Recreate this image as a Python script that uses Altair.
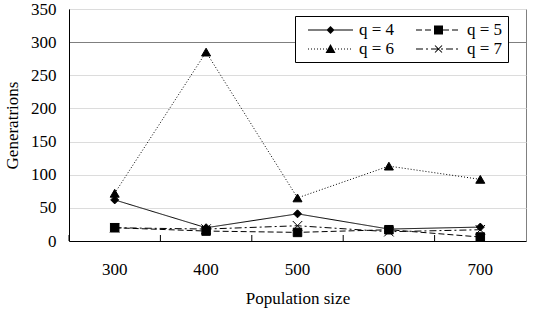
import math
import altair as alt
import pandas as pd

# Population sizes tested and mean generations needed for each q
populations = [300, 400, 500, 600, 700]
series_names = ["q = 4", "q = 5", "q = 6", "q = 7"]
q4 = [62, 20, 41, 18, 21]
q5 = [20, 15, 13, 17, 6]
q6 = [72, 285, 65, 113, 93]
q7 = [20, 18, 23, 14, 17]
y_ticks = [0, 50, 100, 150, 200, 250, 300, 350]

rows = []
for name, vals in zip(series_names, [q4, q5, q6, q7]):
    for p, v in zip(populations, vals):
        rows.append({"pop": p, "series": name, "gens": v})
df = pd.DataFrame(rows)

FONT = "'Liberation Serif', 'Times New Roman', Times, serif"
FS = 17

# Legend samples: a 45 px line with the series marker in its middle.
# Symbols are laid out on a 16 px grid cell (unit = 8 px), the sample
# starts at the cell's left edge and runs to the right of it.
R = 8.0            # px per symbol unit
SAMPLE = 45.0      # sample length, px
CELL = 2 * R       # nominal symbol width, px


def to_units(x, y):
    return (x - R) / R, y / R


def quad(pts):
    return "M" + "L".join("{:.4f},{:.4f}".format(*to_units(a, b)) for a, b in pts) + "Z"


def dash_path(pattern):
    """Filled 1 px tall rectangles along the sample (pattern in px)."""
    segs, x, i, on = [], 0.0, 0, True
    while x < SAMPLE - 1e-6:
        length = pattern[i % len(pattern)]
        if on:
            b = min(x + length, SAMPLE)
            segs.append(quad([(x, -0.5), (b, -0.5), (b, 0.5), (x, 0.5)]))
        x += length
        on = not on
        i += 1
    return "".join(segs)


def thick_segment(x0, y0, x1, y1):
    """Segment drawn as a filled quad one pixel thick."""
    dx, dy = x1 - x0, y1 - y0
    n = math.hypot(dx, dy)
    px, py = -dy / n * 0.5, dx / n * 0.5
    return quad([(x0 - px, y0 - py), (x1 - px, y1 - py), (x1 + px, y1 + py), (x0 + px, y0 + py)])


m = SAMPLE / 2
markers = {
    "diamond": quad([(m, -4), (m + 4, 0), (m, 4), (m - 4, 0)]),
    "square": quad([(m - 4.5, -4.5), (m + 4.5, -4.5), (m + 4.5, 4.5), (m - 4.5, 4.5)]),
    "triangle": quad([(m, -5), (m + 5, 4), (m - 5, 4), (m, -5)]),
    "cross": thick_segment(m - 3.5, -3.5, m + 3.5, 3.5) + thick_segment(m - 3.5, 3.5, m + 3.5, -3.5),
}
dash_patterns = [[1, 0], [6, 3], [1, 2], [7, 3, 2, 3]]
legend_paths = [
    dash_path([SAMPLE]) + markers["diamond"],
    dash_path([6, 3]) + markers["square"],
    dash_path([1, 2]) + markers["triangle"],
    dash_path([7, 3, 2, 3]) + markers["cross"],
]
point_shapes = ["diamond", "square", "triangle-up", "M-1,-1L1,1M-1,1L1,-1"]
point_sizes = [64, 90, 110, 50]

x_enc = alt.X(
    "pop:O",
    title="Population size",
    bandPosition=0.5,
    scale=alt.Scale(type="band", paddingInner=0, paddingOuter=0),
    axis=alt.Axis(ticks=False, labelAngle=0, labelPadding=20, titlePadding=13,
                  domainColor="black"),
)
y_enc = alt.Y(
    "gens:Q",
    title="Generatrions",
    scale=alt.Scale(domain=[0, 350], nice=False, zero=True),
    axis=alt.Axis(
        values=y_ticks, ticks=False, grid=True, labelPadding=13, titlePadding=9,
        domainColor="black",
        gridColor={"condition": {"test": "datum.value === 300", "value": "#7f7f7f"},
                   "value": "#dcdcdc"},
    ),
)

base = alt.Chart(df)

lines = base.mark_line(color="black", strokeWidth=1).encode(
    x=x_enc, y=y_enc,
    strokeDash=alt.StrokeDash("series:N",
                              scale=alt.Scale(domain=series_names, range=dash_patterns),
                              legend=None),
)

points = base.mark_point(filled=True, fill="black", stroke="black", strokeWidth=1,
                         opacity=1).encode(
    x=x_enc, y=y_enc,
    shape=alt.Shape("series:N", scale=alt.Scale(domain=series_names, range=point_shapes),
                    legend=None),
    size=alt.Size("series:O", scale=alt.Scale(domain=series_names, range=point_sizes),
                  legend=None),
)

# category separators on the x axis, pointing into the plot
ticks = base.transform_filter(alt.datum.series == "q = 4").mark_rule(
    color="black", strokeWidth=1
).encode(
    x=alt.X("pop:O", bandPosition=0),
    y=alt.value(226),
    y2=alt.value(232),
)

legend_layer = base.transform_filter("false").mark_point(
    filled=True, fill="black", opacity=1
).encode(
    x=x_enc, y=y_enc,
    shape=alt.Shape(
        "series:N",
        scale=alt.Scale(domain=series_names, range=legend_paths),
        legend=alt.Legend(
            title=None, orient="none", legendX=226, legendY=7, columns=2,
            direction="horizontal",
            symbolSize=CELL ** 2, symbolFillColor="black",
            symbolOpacity=1, symbolOffset=7,
            labelFont=FONT, labelFontSize=FS, labelColor="black",
            labelOffset=5 + SAMPLE - CELL,
            labelExpr="datum.label + '  '",
            columnPadding=13, rowPadding=2, padding=5,
            strokeColor="black", fillColor="white",
        ),
    ),
)

chart = (
    alt.layer(lines, ticks, points, legend_layer)
    .resolve_scale(shape="independent")
    .properties(
        width=457, height=232,
        autosize=alt.AutoSizeParams(type="none"),
        padding={"left": 69, "top": 9, "right": 29, "bottom": 71},
        background="white",
    )
    .configure_view(stroke="#808080", strokeWidth=1)
    .configure_axis(
        labelFont=FONT, labelFontSize=FS, labelColor="black",
        titleFont=FONT, titleFontSize=FS, titleFontWeight="normal", titleColor="black",
        domainWidth=1,
    )
)

chart.save("out.html", embed_options={"renderer": "svg", "actions": False})
